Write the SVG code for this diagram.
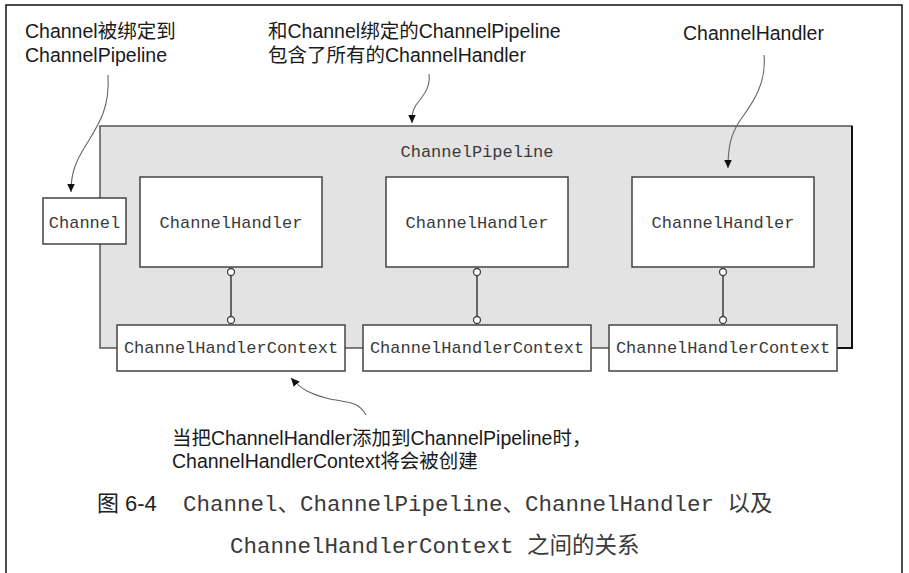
<svg xmlns="http://www.w3.org/2000/svg" width="909" height="573" viewBox="0 0 909 573">
<style>
.sans{font-family:"Liberation Sans","Noto Sans CJK SC",Arial,sans-serif;font-size:19.5px;fill:#1a1a1a}
.mono{font-family:"Liberation Mono","Courier New",monospace;font-size:17px;fill:#3a3a3a;text-anchor:middle}
.cap{font-family:"Liberation Mono","Noto Sans CJK SC",monospace;font-size:22.5px;fill:#3a3a3a}
.capcjk{font-family:"Noto Sans CJK SC",sans-serif;font-size:22px;fill:#222}
.box{fill:#fff;stroke:#444;stroke-width:1.5}
.link{stroke:#444;stroke-width:1.6;fill:none}
.dot{fill:#fff;stroke:#444;stroke-width:1.3}
.call{fill:none;stroke:#666;stroke-width:1.1}
</style>
<defs>
<marker id="ah" markerUnits="userSpaceOnUse" markerWidth="9" markerHeight="9" refX="8.5" refY="4.5" orient="auto">
<path d="M0,0.5 L8.5,4.5 L0,8.5 z" fill="#111"/>
</marker>
</defs>
<rect width="909" height="573" fill="#fff"/>
<path d="M6,573 V5 H902 V573" fill="none" stroke="#111" stroke-width="1.5"/>

<g id="pipeline">
<rect x="100" y="126" width="752" height="222" fill="#e3e3e3" stroke="#555" stroke-width="1.5"/>
<path d="M852,126 V348 H830" fill="none" stroke="#111" stroke-width="2"/>
<text class="mono" x="477" y="157">ChannelPipeline</text>
</g>

<g id="channel">
<rect class="box" x="43" y="198" width="83" height="46"/>
<text class="mono" x="84.5" y="228">Channel</text>
</g>

<g id="handler1">
<rect class="box" x="140" y="177" width="182" height="90"/>
<text class="mono" x="231" y="228">ChannelHandler</text>
</g>
<g id="handler2">
<rect class="box" x="386" y="177" width="182" height="90"/>
<text class="mono" x="477" y="228">ChannelHandler</text>
</g>
<g id="handler3">
<rect class="box" x="632" y="177" width="182" height="90"/>
<text class="mono" x="723" y="228">ChannelHandler</text>
</g>

<g id="context1">
<rect class="box" x="117" y="325" width="228" height="46"/>
<text class="mono" x="231" y="353">ChannelHandlerContext</text>
</g>
<g id="context2">
<rect class="box" x="363" y="325" width="228" height="46"/>
<text class="mono" x="477" y="353">ChannelHandlerContext</text>
</g>
<g id="context3">
<rect class="box" x="609" y="325" width="228" height="46"/>
<text class="mono" x="723" y="353">ChannelHandlerContext</text>
</g>

<g id="connectors">
<line class="link" x1="231" y1="275.5" x2="231" y2="316.5"/>
<circle class="dot" cx="231" cy="272" r="3.5"/>
<circle class="dot" cx="231" cy="320" r="3.5"/>
<line class="link" x1="477" y1="275.5" x2="477" y2="316.5"/>
<circle class="dot" cx="477" cy="272" r="3.5"/>
<circle class="dot" cx="477" cy="320" r="3.5"/>
<line class="link" x1="723" y1="275.5" x2="723" y2="316.5"/>
<circle class="dot" cx="723" cy="272" r="3.5"/>
<circle class="dot" cx="723" cy="320" r="3.5"/>
<path class="call" marker-end="url(#ah)" d="M108,75 C110,108 99,124 86,145 C76,161 71,172 71,192"/>
<path class="call" marker-end="url(#ah)" d="M429,74 C431,89 421,98 416,105 C413,110 412,113 412,123"/>
<path class="call" marker-end="url(#ah)" d="M764,55 C767,86 750,106 739,122 C731,135 728,146 728,168"/>
<path class="call" marker-end="url(#ah)" d="M366,415 C358,400 345,403 326,398 C311,394 302,390 291,378"/>
</g>

<g id="labels">
<text class="sans" x="25" y="38">Channel被绑定到</text>
<text class="sans" x="25" y="62">ChannelPipeline</text>
<text class="sans" x="268" y="38">和Channel绑定的ChannelPipeline</text>
<text class="sans" x="268" y="62">包含了所有的ChannelHandler</text>
<text class="sans" x="683" y="40">ChannelHandler</text>
<text class="sans" x="172" y="445">当把ChannelHandler添加到ChannelPipeline时，</text>
<text class="sans" x="172" y="468">ChannelHandlerContext将会被创建</text>
</g>

<g id="caption">
<text x="97" y="511"><tspan class="capcjk">图</tspan><tspan font-family="Liberation Sans,Arial,sans-serif" font-size="22" fill="#222" dx="6">6-4</tspan></text>
<text class="cap" x="183" y="511">Channel、ChannelPipeline、ChannelHandler 以及</text>
<text class="cap" x="230" y="553">ChannelHandlerContext 之间的关系</text>
</g>
</svg>
